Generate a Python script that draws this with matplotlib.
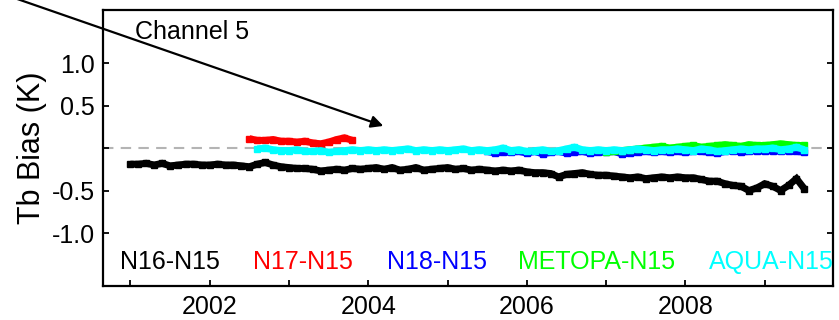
import numpy as np
import matplotlib
matplotlib.use("Agg")
import matplotlib.pyplot as plt

plt.rcParams['font.family'] = ['Liberation Sans', 'DejaVu Sans']

# ---------------- data ----------------
black_start = 2001.0
n16_n15 = [
    -0.19, -0.19, -0.18, -0.20, -0.18, -0.21, -0.20, -0.19, -0.19, -0.20,
    -0.20, -0.19, -0.20, -0.20, -0.21, -0.22, -0.19, -0.17, -0.20, -0.22,
    -0.23, -0.24, -0.24, -0.25, -0.27, -0.26, -0.25, -0.26, -0.24, -0.25,
    -0.24, -0.23, -0.25, -0.23, -0.26, -0.25, -0.23, -0.26, -0.25, -0.24,
    -0.23, -0.25, -0.24, -0.26, -0.25, -0.26, -0.27, -0.26, -0.27, -0.26,
    -0.28, -0.29, -0.29, -0.30, -0.34, -0.31, -0.30, -0.29, -0.31, -0.32,
    -0.32, -0.33, -0.34, -0.35, -0.34, -0.36, -0.35, -0.34, -0.35, -0.34,
    -0.35, -0.35, -0.37, -0.39, -0.39, -0.42, -0.44, -0.45, -0.50, -0.47,
    -0.42, -0.45, -0.50, -0.44, -0.36, -0.48,
]

red_start = 2002.5
n17_n15 = [0.11, 0.09, 0.09, 0.10, 0.08, 0.08, 0.07, 0.08, 0.06, 0.05,
           0.07, 0.10, 0.12, 0.09]

blue_start = 2005.5
n18_n15 = [
    -0.04, -0.06, -0.05, -0.05, -0.04,
    -0.06, -0.04, -0.07, -0.05, -0.04, -0.06, -0.05, -0.04, -0.06, -0.05,
    -0.05, -0.04, -0.07, -0.06, -0.05, -0.04, -0.05, -0.04, -0.05, -0.04,
    -0.05, -0.04, -0.04, -0.05, -0.06, -0.04, -0.03, -0.05, -0.04, -0.03,
    -0.04, -0.03, -0.04, -0.03, -0.04, -0.05,
]

green_start = 2007.0
metopa_n15 = [
    -0.05, -0.04, -0.03, -0.02, -0.01, 0.00, 0.01, 0.02, 0.00, 0.01,
    0.02, 0.03, 0.01, 0.02, 0.03, 0.04, 0.03, 0.02, 0.04, 0.03,
    0.03, 0.04, 0.05, 0.04, 0.03, 0.03,
]

cyan_start = 2002.6
aqua_n15 = [
    -0.01, 0.00, -0.02, -0.03,
    -0.03, -0.02, -0.04, -0.04, -0.03, -0.05, -0.04, -0.03, -0.02, -0.03,
    -0.02, -0.03, -0.02, -0.03, -0.02, -0.01, -0.03, -0.02, -0.03, -0.02,
    -0.03, -0.02, -0.01, -0.03, -0.02, -0.03, -0.02, 0.00, -0.03, -0.02,
    -0.04, -0.03, -0.02, -0.04, -0.03, -0.01, 0.01, -0.02, -0.03, -0.02,
    -0.03, -0.02, -0.03, -0.02, -0.01, -0.02, -0.03, -0.02, -0.02, -0.01,
    -0.02, -0.03, -0.01, -0.02, -0.04, -0.03, -0.02, -0.01, -0.02, -0.01,
    -0.01, 0.00, -0.02, -0.01, 0.01, -0.02,
]

series_labels = ["N16-N15", "N17-N15", "N18-N15", "METOPA-N15", "AQUA-N15"]
series_colors = ["black", "#ff0000", "#0000ff", "#00ff00", "#00ffff"]
label_x = [2001.50, 2003.17, 2004.87, 2006.88, 2009.08]

ytick_vals = [-1.0, -0.5, 0.0, 0.5, 1.0]
ytick_labels = ["-1.0", "-0.5", "", "0.5", "1.0"]
xtick_vals = list(range(2001, 2010))
xtick_labels = [str(y) if y % 2 == 0 else "" for y in xtick_vals]


def years(start, vals, step=0.1):
    return start + step * np.arange(len(vals))


# ---------------- figure ----------------
fig = plt.figure(figsize=(8.39, 3.2), dpi=100)
ax = fig.add_axes([0.1228, 0.1072, 0.8697, 0.8631])

ax.axhline(0, color="#b4b4b4", lw=1.5, ls=(0, (5, 3.5)), zorder=1)

lw = 5.0
series = [
    (black_start, n16_n15),
    (red_start, n17_n15),
    (blue_start, n18_n15),
    (green_start, metopa_n15),
    (cyan_start, aqua_n15),
]
for i, ((st, vals), col) in enumerate(zip(series, series_colors)):
    ax.plot(years(st, vals), vals, color=col, lw=lw, marker="s", ms=4.5,
            solid_joinstyle="miter", solid_capstyle="butt", zorder=2 + i)

ax.set_xlim(2000.655, 2009.857)
ax.set_ylim(-1.62, 1.63)

ax.set_xticks(xtick_vals)
ax.set_xticklabels(xtick_labels)
ax.set_yticks(ytick_vals)
ax.set_yticklabels(ytick_labels)
ax.tick_params(axis="both", direction="in", length=4.5, width=1.3,
               labelsize=18, colors="black")
ax.tick_params(axis="y", right=True, pad=6)
ax.tick_params(axis="x", pad=7)
for s in ax.spines.values():
    s.set_linewidth(1.6)

ax.set_ylabel("Tb Bias (K)", fontsize=22, labelpad=3)

ax.text(0.044, 0.919, "Channel 5", transform=ax.transAxes, fontsize=18,
        ha="left", va="center")

for lab, col, xx in zip(series_labels, series_colors, label_x):
    ax.text(xx, -1.34, lab, color=col, fontsize=18, ha="center", va="center")

ax.annotate("", xy=(2004.19, 0.26), xycoords="data",
            xytext=(0, 327), textcoords="figure pixels",
            arrowprops=dict(arrowstyle="-|>", color="black", lw=1.6,
                            mutation_scale=18, shrinkA=0, shrinkB=0),
            annotation_clip=False)

fig.savefig("out.png", dpi=100)
